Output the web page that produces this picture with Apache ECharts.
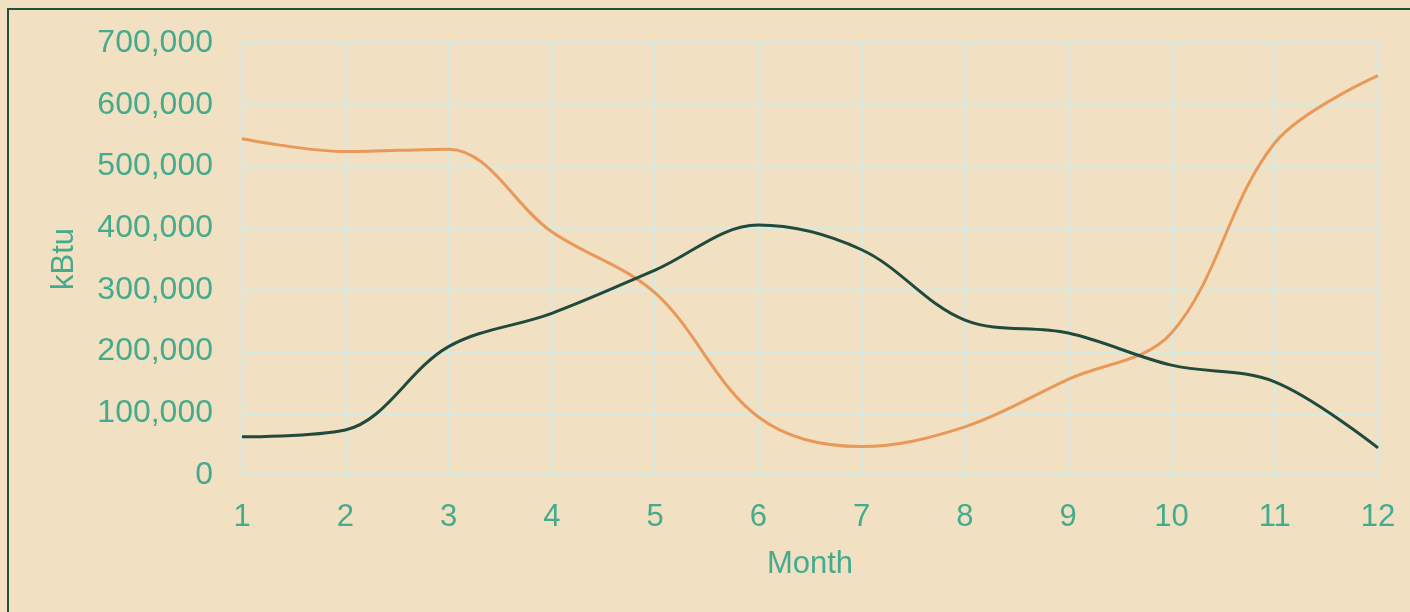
<!DOCTYPE html>
<html>
<head>
<meta charset="utf-8">
<script src="https://cdn.jsdelivr.net/npm/echarts@6/dist/echarts.min.js"></script>
<style>
  html, body { margin: 0; padding: 0; background: #F1E0C1; overflow: hidden; }
  #frame { position: absolute; left: 7px; top: 8px; width: 1440px; height: 640px;
           border: 2px solid #22503F; box-sizing: border-box; }
  #chart { position: absolute; left: 0; top: 0; width: 1410px; height: 612px; }
</style>
</head>
<body>
<div id="frame"></div>
<div id="chart"></div>
<script>
// Monthly energy use, kBtu
const months = ['1', '2', '3', '4', '5', '6', '7', '8', '9', '10', '11', '12'];
const heating = [545000, 524000, 528000, 394000, 295000, 94000, 46000, 78000, 155000, 230000, 538000, 647000];
const cooling = [62000, 73000, 208000, 262000, 332000, 405000, 365000, 251000, 230000, 178000, 151000, 44000];

const teal = '#45AB8F';
const gridColor = '#D3EBE2';
const font = 'Liberation Sans, Arial, sans-serif';

const chart = echarts.init(document.getElementById('chart'));
chart.setOption({
  backgroundColor: 'transparent',
  animation: false,
  grid: { left: 242, right: 32, top: 43, bottom: 137 },
  xAxis: {
    type: 'category',
    data: months,
    boundaryGap: false,
    name: 'Month',
    nameLocation: 'middle',
    nameGap: 74,
    nameTextStyle: { color: teal, fontSize: 31, fontFamily: font },
    axisLine: { lineStyle: { color: gridColor, width: 2 } },
    axisTick: { show: false },
    axisLabel: { color: teal, fontSize: 31, fontFamily: font, margin: 27 },
    splitLine: { show: true, lineStyle: { color: gridColor, width: 2 } }
  },
  yAxis: {
    type: 'value',
    min: 0,
    max: 700000,
    interval: 100000,
    name: 'kBtu',
    nameLocation: 'middle',
    nameGap: 162,
    nameRotate: 90,
    nameTextStyle: { color: teal, fontSize: 31, fontFamily: font },
    axisLine: { show: false },
    axisTick: { show: false },
    axisLabel: {
      color: teal, fontSize: 32, fontFamily: font, margin: 29,
      formatter: v => v.toLocaleString('en-US')
    },
    splitLine: { lineStyle: { color: gridColor, width: 2 } }
  },
  series: [
    {
      name: 'Heating',
      type: 'line',
      data: heating,
      smooth: 0.35,
      showSymbol: false,
      lineStyle: { color: '#E8995A', width: 3 },
      z: 3
    },
    {
      name: 'Cooling',
      type: 'line',
      data: cooling,
      smooth: 0.35,
      showSymbol: false,
      lineStyle: { color: '#1F4A3D', width: 3 },
      z: 4
    }
  ]
});
</script>
</body>
</html>
